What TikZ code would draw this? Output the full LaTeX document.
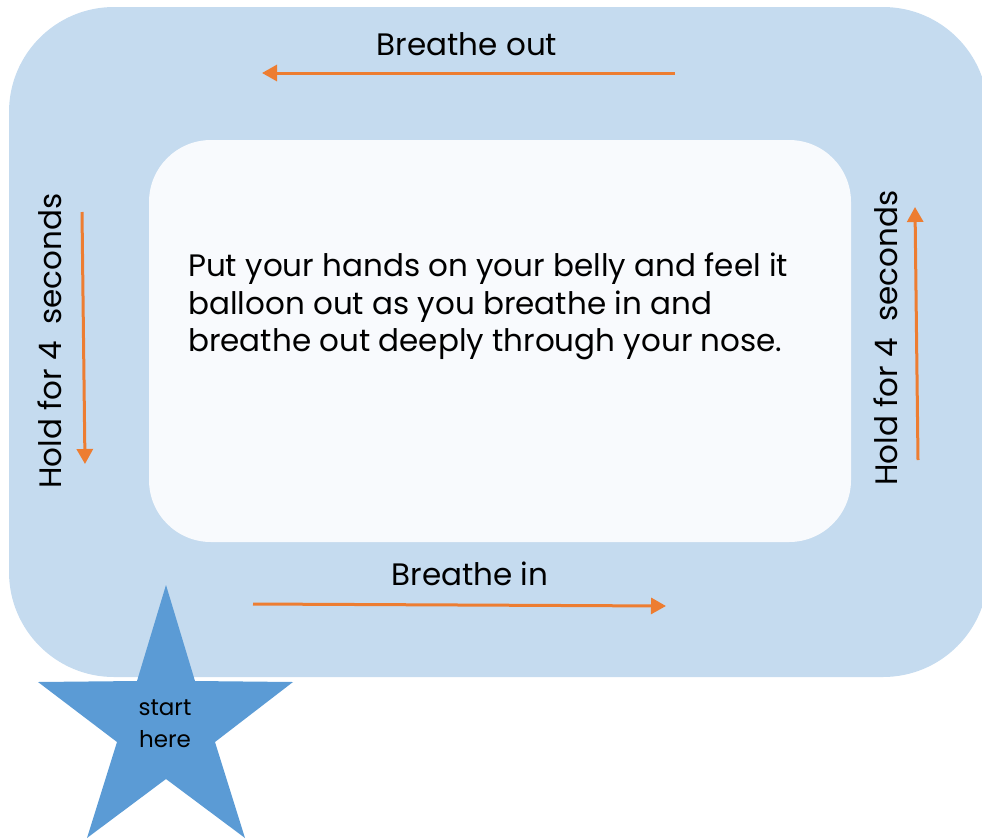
\documentclass[tikz,border=0pt]{standalone}
\usepackage{fontspec}
\setmainfont{Poppins}
\definecolor{outerblue}{HTML}{C5DBEF}
\definecolor{innerwhite}{HTML}{F8FAFD}
\definecolor{starblue}{HTML}{5B9BD5}
\definecolor{arroworange}{HTML}{ED7D31}
\tikzset{
  lbl/.style={font=\fontsize{31}{37}\selectfont, text=black, inner sep=0pt},
  flow/.style={draw=arroworange, line width=3pt, -{Triangle[length=15pt,width=16pt]}},
}
\usetikzlibrary{arrows.meta}
\begin{document}
\begin{tikzpicture}[x=1pt,y=-1pt]
\useasboundingbox (0,0) rectangle (982,838);
\fill[outerblue, rounded corners=105pt] (9,7) rectangle (988,677);
\node[fill=innerwhite, rounded corners=62pt, minimum width=702pt, minimum height=402pt, inner sep=0pt] (inner) at (500,341) {};
\node[lbl, align=left, anchor=west, font=\fontsize{31}{37.5}\selectfont] (body) at (188,306.5) {Put your hands on your belly and feel it\\balloon out as you breathe in and\\breathe out deeply through your nose.};
\node[lbl] (out) at (467,44) {Breathe out};
\node[lbl] (in) at (470,574) {Breathe in};
\node[lbl, rotate=90] (holdl) at (50,341) {Hold for 4\ \ seconds};
\node[lbl, rotate=90] (holdr) at (886,338) {Hold for 4\ \ seconds};
\coordinate (t1) at (675,73); \coordinate (t2) at (262,73);
\coordinate (b1) at (253,604); \coordinate (b2) at (666,606);
\coordinate (l1) at (82,212); \coordinate (l2) at (85,464);
\coordinate (r1) at (918,460); \coordinate (r2) at (915,207);
\draw[flow] (t1) -- (t2);
\draw[flow] (b1) -- (b2);
\draw[flow] (l1) -- (l2);
\draw[flow] (r1) -- (r2);
\fill[starblue] (166,585) -- (195,681) -- (293,682) -- (215,742) -- (245,838) -- (166,779) -- (87,838) -- (117,742) -- (38,682) -- (137,681) -- cycle;
\node[align=center, font=\fontsize{23}{32}\selectfont, inner sep=0pt] (start) at (165,724) {start\\here};
\end{tikzpicture}
\end{document}
